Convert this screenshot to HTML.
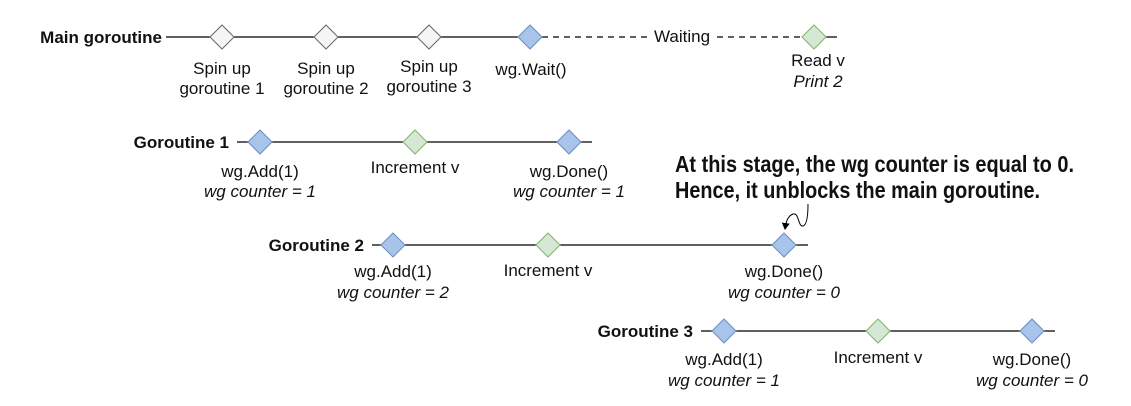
<!DOCTYPE html>
<html><head><meta charset="utf-8"><style>
html,body{margin:0;padding:0;background:#fff;}
svg{display:block;}
text{font-family:"Liberation Sans",Arial,sans-serif;font-size:17px;fill:#111;}
.b{font-weight:bold;}
.i{font-style:italic;}
.n{font-family:"Liberation Sans Narrow","Liberation Sans",sans-serif;font-weight:bold;font-size:23px;}
</style></head><body>
<svg width="1131" height="406" viewBox="0 0 1131 406" xmlns="http://www.w3.org/2000/svg">
<defs>
<g id="db"><polygon points="-12,0 0,-12 12,0 0,12" fill="#a9c4eb" stroke="#6c8ebf" stroke-width="1"/></g>
<g id="dg"><polygon points="-12,0 0,-12 12,0 0,12" fill="#d5e8d4" stroke="#82b366" stroke-width="1"/></g>
<g id="dw"><polygon points="-12,0 0,-12 12,0 0,12" fill="#f5f5f5" stroke="#666" stroke-width="1"/></g>
<marker id="ah" markerWidth="8" markerHeight="8" refX="6" refY="4" orient="auto"><path d="M0,0 L7,4 L0,8 z" fill="#000"/></marker>
</defs>
<!-- Main -->
<text x="162" y="43" class="b" text-anchor="end">Main goroutine</text>
<line x1="166" y1="37" x2="530" y2="37" stroke="#000" stroke-width="1.3"/>
<line x1="542" y1="37" x2="648" y2="37" stroke="#000" stroke-width="1.3" stroke-dasharray="6,5"/>
<text x="682" y="42" text-anchor="middle">Waiting</text>
<line x1="717" y1="37" x2="802" y2="37" stroke="#000" stroke-width="1.3" stroke-dasharray="6,5"/>
<line x1="814" y1="37" x2="837" y2="37" stroke="#000" stroke-width="1.3"/>
<use href="#dw" x="222" y="37"/><use href="#dw" x="326" y="37"/><use href="#dw" x="429" y="37"/>
<use href="#db" x="530" y="37"/><use href="#dg" x="814" y="37"/>
<text x="222" y="74" text-anchor="middle">Spin up</text><text x="222" y="94" text-anchor="middle">goroutine 1</text>
<text x="326" y="74" text-anchor="middle">Spin up</text><text x="326" y="94" text-anchor="middle">goroutine 2</text>
<text x="429" y="72" text-anchor="middle">Spin up</text><text x="429" y="92" text-anchor="middle">goroutine 3</text>
<text x="531" y="75" text-anchor="middle">wg.Wait()</text>
<text x="818" y="66" text-anchor="middle">Read v</text><text x="818" y="87" text-anchor="middle" class="i">Print 2</text>
<!-- G1 -->
<text x="229" y="148" class="b" text-anchor="end">Goroutine 1</text>
<line x1="237" y1="142" x2="592" y2="142" stroke="#000" stroke-width="1.3"/>
<use href="#db" x="260" y="142"/><use href="#dg" x="415" y="142"/><use href="#db" x="569" y="142"/>
<text x="260" y="177" text-anchor="middle">wg.Add(1)</text><text x="260" y="197" text-anchor="middle" class="i">wg counter = 1</text>
<text x="415" y="173" text-anchor="middle">Increment v</text>
<text x="569" y="177" text-anchor="middle">wg.Done()</text><text x="569" y="197" text-anchor="middle" class="i">wg counter = 1</text>
<!-- annotation -->
<text x="675" y="172" class="n" textLength="399" lengthAdjust="spacingAndGlyphs">At this stage, the wg counter is equal to 0.</text>
<text x="675" y="198" class="n" textLength="365" lengthAdjust="spacingAndGlyphs">Hence, it unblocks the main goroutine.</text>
<path d="M808,204 C808,214 807,225 803,226 C798,227 799,212 793,214 C788,216 786,221 785,229" fill="none" stroke="#000" stroke-width="1" marker-end="url(#ah)"/>
<!-- G2 -->
<text x="364" y="251" class="b" text-anchor="end">Goroutine 2</text>
<line x1="372" y1="245" x2="808" y2="245" stroke="#000" stroke-width="1.3"/>
<use href="#db" x="393" y="245"/><use href="#dg" x="548" y="245"/><use href="#db" x="784" y="245"/>
<text x="393" y="277" text-anchor="middle">wg.Add(1)</text><text x="393" y="298" text-anchor="middle" class="i">wg counter = 2</text>
<text x="548" y="276" text-anchor="middle">Increment v</text>
<text x="784" y="277" text-anchor="middle">wg.Done()</text><text x="784" y="298" text-anchor="middle" class="i">wg counter = 0</text>
<!-- G3 -->
<text x="693" y="337" class="b" text-anchor="end">Goroutine 3</text>
<line x1="701" y1="331" x2="1055" y2="331" stroke="#000" stroke-width="1.3"/>
<use href="#db" x="724" y="331"/><use href="#dg" x="878" y="331"/><use href="#db" x="1032" y="331"/>
<text x="724" y="365" text-anchor="middle">wg.Add(1)</text><text x="724" y="386" text-anchor="middle" class="i">wg counter = 1</text>
<text x="878" y="363" text-anchor="middle">Increment v</text>
<text x="1032" y="365" text-anchor="middle">wg.Done()</text><text x="1032" y="386" text-anchor="middle" class="i">wg counter = 0</text>
</svg>
</body></html>
